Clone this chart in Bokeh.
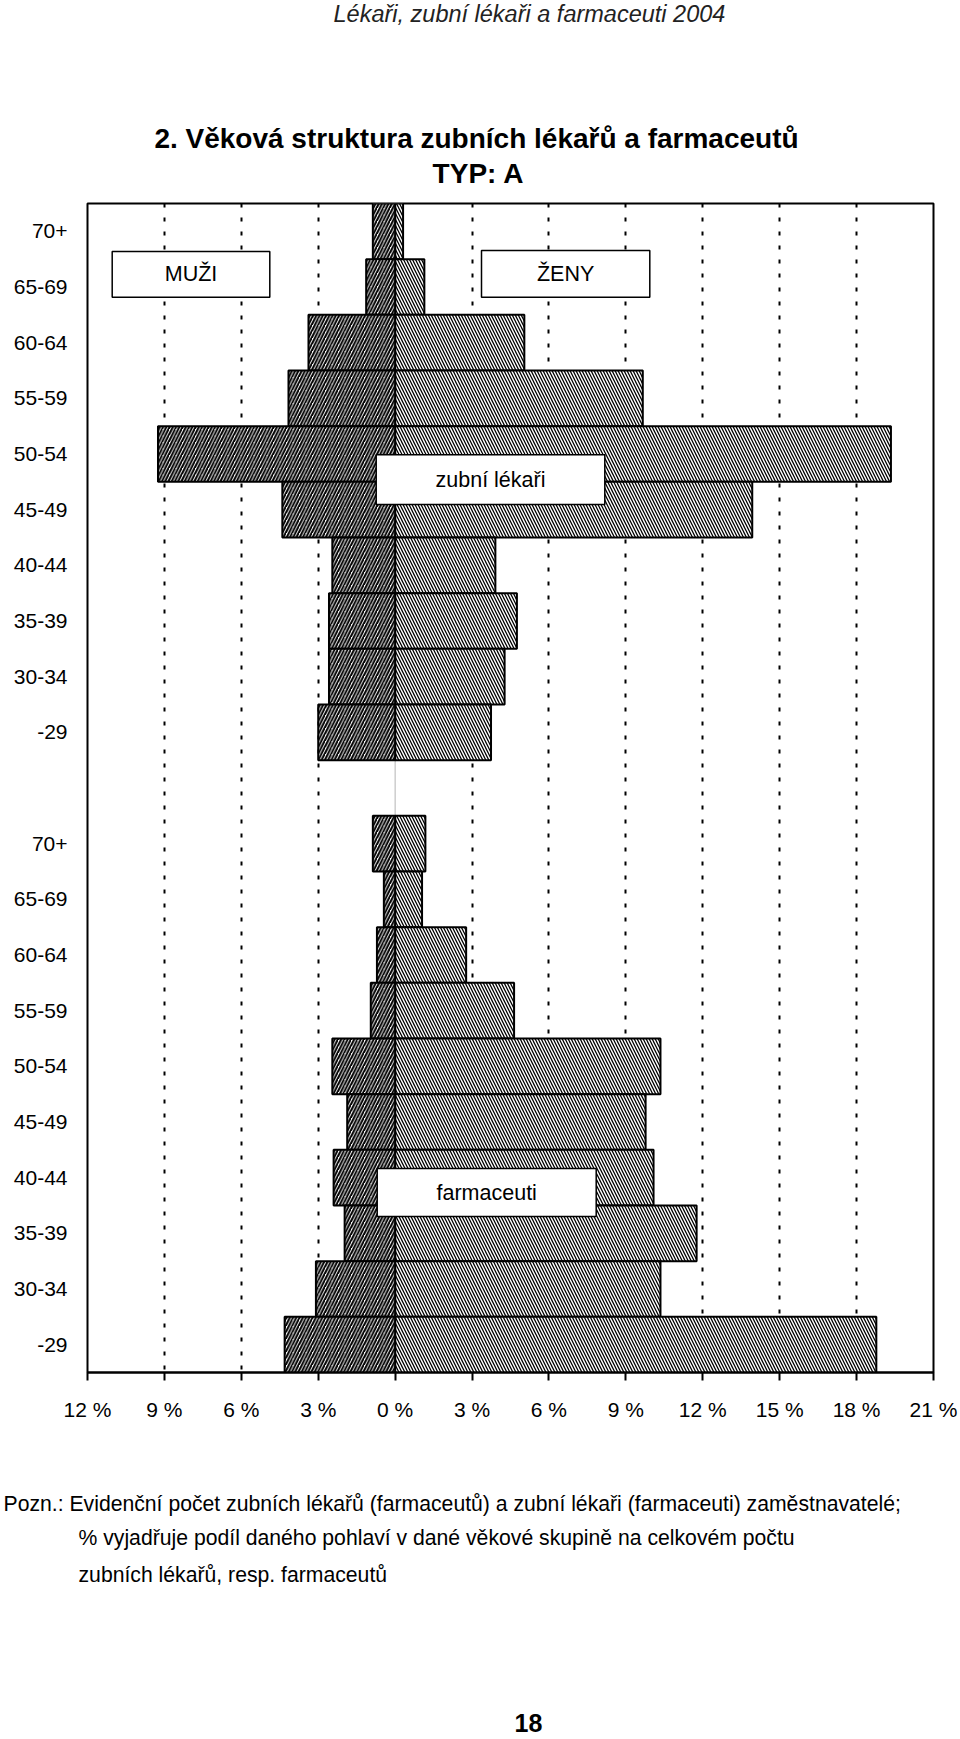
from bokeh.plotting import figure
from bokeh.layouts import column
from bokeh.models import Range1d, FixedTicker, Label, BoxAnnotation, Span, ColumnDataSource
from bokeh.embed import file_html
from bokeh.resources import INLINE

# ---------------- data ----------------
age_groups = ["70+", "65-69", "60-64", "55-59", "50-54", "45-49", "40-44", "35-39", "30-34", "-29"]
# zubní lékaři (dentists), % of all dentists
dent_men = [0.87, 1.13, 3.38, 4.16, 9.25, 4.40, 2.45, 2.58, 2.58, 3.00]
dent_women = [0.31, 1.14, 5.04, 9.66, 19.34, 13.93, 3.91, 4.75, 4.27, 3.74]
# farmaceuti (pharmacists), % of all pharmacists
pharm_men = [0.87, 0.44, 0.71, 0.95, 2.45, 1.87, 2.40, 1.97, 3.09, 4.31]
pharm_women = [1.18, 1.05, 2.77, 4.64, 10.35, 9.77, 10.08, 11.76, 10.35, 18.77]

x_ticks = [-12, -9, -6, -3, 0, 3, 6, 9, 12, 15, 18, 21]
x_tick_labels = ["12 %", "9 %", "6 %", "3 %", "0 %", "3 %", "6 %", "9 %", "12 %", "15 %", "18 %", "21 %"]
grid_ticks = [-9, -6, -3, 3, 6, 9, 12, 15, 18]

header_text = "Lékaři, zubní lékaři a farmaceuti 2004"
title_text = "2. Věková struktura zubních lékařů a farmaceutů"
subtitle_text = "TYP: A"
note_lines = [
    "Pozn.: Evidenční počet zubních lékařů (farmaceutů) a zubní lékaři (farmaceuti) zaměstnavatelé;",
    "% vyjadřuje podíl daného pohlaví v dané věkové skupině na celkovém počtu",
    "zubních lékařů, resp. farmaceutů",
]
page_number = "18"

# ---------------- layout ----------------
W, H = 960, 1739
TOP_H = 195                # header/title strip
MAIN_H = 1245              # chart
BOT_H = H - TOP_H - MAIN_H  # notes strip
FL, FR = 87, 933           # frame left/right (page px)
FT, FB = 203, 1372         # frame top/bottom (page px)
X0, X1 = -12, 21
NSLOT = 2 * len(age_groups) + 1
FONT = "Liberation Sans"


def sx2x(px):
    return X0 + (px - FL) * (X1 - X0) / (FR - FL)


def sy2y(py):
    return (py - FT) * NSLOT / (FB - FT)


def no_align(f):
    try:
        f.frame_align = False
    except Exception:
        pass


def text_strip(height):
    f = figure(width=W, height=height, x_range=Range1d(0, W), y_range=Range1d(height, 0),
               output_backend="svg", toolbar_location=None, x_axis_type=None, y_axis_type=None,
               min_border=0, min_border_left=0, min_border_right=0,
               min_border_top=0, min_border_bottom=0)
    f.outline_line_color = None
    f.grid.visible = False
    f.background_fill_color = "white"
    f.border_fill_color = "white"
    no_align(f)
    return f


def page_label(fig, x, y, text, size, style="normal", align="left", color="black"):
    fig.add_layout(Label(x=x, y=y, text=text, text_align=align, text_baseline="middle",
                         text_font=FONT, text_font_style=style, text_font_size=size,
                         text_color=color))


# ---------- top strip ----------
top = text_strip(TOP_H)
page_label(top, 333, 13.5, header_text, "23.5px", style="italic", color="#222222")
page_label(top, 476, 137.7, title_text, "28px", style="bold", align="center")
page_label(top, 478, 172.5, subtitle_text, "28px", style="bold", align="center")

# ---------- main chart ----------
n = len(age_groups)
y_top = [i + 0.5 for i in range(n)]
y_low = [n + 1 + i + 0.5 for i in range(n)]

src = ColumnDataSource(dict(
    y=y_top + y_low,
    men_left=[-v for v in dent_men + pharm_men],
    women_right=dent_women + pharm_women,
))

p = figure(width=W, height=MAIN_H, x_range=Range1d(X0, X1), y_range=Range1d(NSLOT, 0),
           output_backend="svg", toolbar_location=None,
           min_border_left=FL, min_border_right=W - FR,
           min_border_top=FT - TOP_H, min_border_bottom=TOP_H + MAIN_H - FB)
no_align(p)
p.background_fill_color = "white"
p.border_fill_color = "white"
p.outline_line_color = "black"
p.outline_line_width = 2

p.ygrid.grid_line_color = None
p.xgrid.ticker = FixedTicker(ticks=grid_ticks)
p.xgrid.grid_line_color = "black"
p.xgrid.grid_line_width = 2
p.xgrid.grid_line_dash = "4 10"

p.add_layout(Span(location=0, dimension="height", line_color="#b5b5b5", line_width=1, level="underlay"))

p.xaxis.ticker = FixedTicker(ticks=x_ticks)
p.xaxis.major_label_overrides = {t: l for t, l in zip(x_ticks, x_tick_labels)}
p.xaxis.major_label_text_font = FONT
p.xaxis.major_label_text_font_size = "21px"
p.xaxis.major_label_text_color = "black"
p.xaxis.major_tick_out = 8
p.xaxis.major_tick_in = 0
p.xaxis.major_tick_line_width = 2
p.xaxis.major_tick_line_color = "black"
p.xaxis.minor_tick_line_color = None
p.xaxis.axis_line_color = "black"
p.xaxis.axis_line_width = 2
p.xaxis.major_label_standoff = 17

y_ticks = y_top + y_low
y_labels = age_groups + age_groups
p.yaxis.ticker = FixedTicker(ticks=y_ticks)
p.yaxis.major_label_overrides = {t: l for t, l in zip(y_ticks, y_labels)}
p.yaxis.major_label_text_font = FONT
p.yaxis.major_label_text_font_size = "21px"
p.yaxis.major_label_text_color = "black"
p.yaxis.major_tick_line_color = None
p.yaxis.minor_tick_line_color = None
p.yaxis.axis_line_color = None
p.yaxis.major_tick_out = 0
p.yaxis.major_tick_in = 0
p.yaxis.major_label_standoff = 20

p.hbar(y="y", left=0, right="women_right", height=1, source=src,
       fill_color="white", hatch_pattern="\\", hatch_color="black",
       hatch_weight=1.3, hatch_scale=6, line_color="black", line_width=2)
p.hbar(y="y", left="men_left", right=0, height=1, source=src,
       fill_color="white", hatch_pattern="/", hatch_color="black",
       hatch_weight=2, hatch_scale=6.5, line_color="black", line_width=2)

boxes = [
    ("MUŽI", 111.7, 269.3, 251, 296.7),
    ("ŽENY", 481, 649.3, 250, 296.7),
    ("zubní lékaři", 375.7, 604.3, 454.3, 504),
    ("farmaceuti", 376.7, 595.7, 1168, 1216),
]
for txt, l, r, t, b in boxes:
    p.add_layout(BoxAnnotation(left=sx2x(l), right=sx2x(r), top=sy2y(t), bottom=sy2y(b),
                               fill_color="white", fill_alpha=1.0, line_color="black",
                               line_width=1.5, line_alpha=1.0))
    p.add_layout(Label(x=sx2x((l + r) / 2), y=sy2y((t + b) / 2), text=txt,
                       text_align="center", text_baseline="middle",
                       text_font=FONT, text_font_size="21.5px", text_color="black"))

# ---------- bottom strip ----------
bot = text_strip(BOT_H)
off = TOP_H + MAIN_H
note_pos = [(3, 1503), (78, 1537), (78, 1574)]
for line, (nx, ny) in zip(note_lines, note_pos):
    page_label(bot, nx, ny - off, line, "21.2px")
page_label(bot, 528, 1722 - off, page_number, "25px", style="bold", align="center")

layout = column(top, p, bot, spacing=0)
open("out.html", "w").write(file_html(layout, INLINE))
